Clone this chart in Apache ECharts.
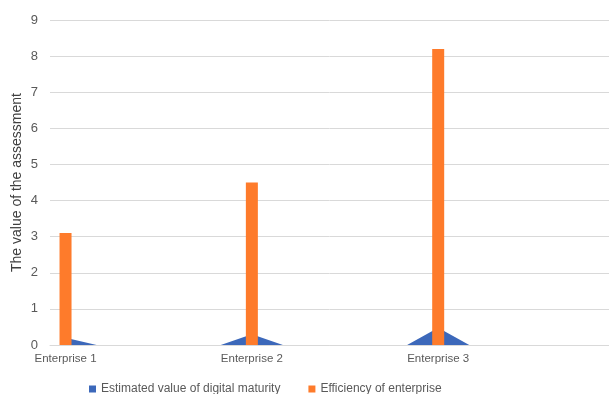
<!DOCTYPE html>
<html>
<head>
<meta charset="utf-8">
<script src="https://cdn.jsdelivr.net/npm/echarts@6/dist/echarts.min.js"></script>
<style>html,body{margin:0;padding:0;background:#fff}#c{width:609px;height:394px}</style>
</head>
<body>
<div id="c"></div>
<script>
// 18 category slots; enterprises sit at slots 0, 6 and 12
const categories = ['Enterprise 1','','','','','','Enterprise 2','','','','','','Enterprise 3','','','','',''];
const digitalMaturity = [0.2,0,0,0,0,0,0.3,0,0,0,0,0,0.48,0,0,0,0,0];
const efficiency = [3.1,null,null,null,null,null,4.5,null,null,null,null,null,8.2,null,null,null,null,null];
const yTicks = [0,1,2,3,4,5,6,7,8,9];

const font = 'Liberation Sans';
const chart = echarts.init(document.getElementById('c'), null, {renderer:'canvas'});
chart.setOption({
  animation:false,
  textStyle:{fontFamily:font},
  grid:{left:50,right:0,top:20,bottom:49,containLabel:false,outerBoundsMode:'none'},
  legend:{
    top:378,left:84,itemWidth:7,itemHeight:7,itemGap:28,icon:'rect',
    textStyle:{fontSize:12,color:'#595959',fontFamily:font},
    data:['Estimated value of digital maturity','Efficiency of enterprise']
  },
  xAxis:{
    type:'category',data:categories,boundaryGap:true,
    axisLine:{lineStyle:{color:'#d9d9d9'}},
    axisTick:{show:false},
    axisLabel:{interval:0,color:'#595959',fontSize:11.5,margin:8}
  },
  yAxis:{
    type:'value',min:yTicks[0],max:yTicks[yTicks.length-1],interval:1,
    name:'The value of the assessment',nameLocation:'middle',nameGap:26,nameMoveOverlap:false,
    nameTextStyle:{fontSize:14,color:'#404040',fontFamily:font},
    axisLabel:{color:'#595959',fontSize:13,margin:12},
    splitLine:{lineStyle:{color:'#d9d9d9',width:1}},
    axisLine:{show:false},axisTick:{show:false}
  },
  series:[
    {name:'Estimated value of digital maturity',type:'line',data:digitalMaturity,
     symbol:'none',lineStyle:{width:0},itemStyle:{color:'#3C68BA'},
     areaStyle:{color:'#3C68BA',opacity:1},z:1},
    {name:'Efficiency of enterprise',type:'bar',data:efficiency,barWidth:12,
     barGap:'-100%',itemStyle:{color:'#FE7B2B'},z:3}
  ]
});
</script>
</body>
</html>
